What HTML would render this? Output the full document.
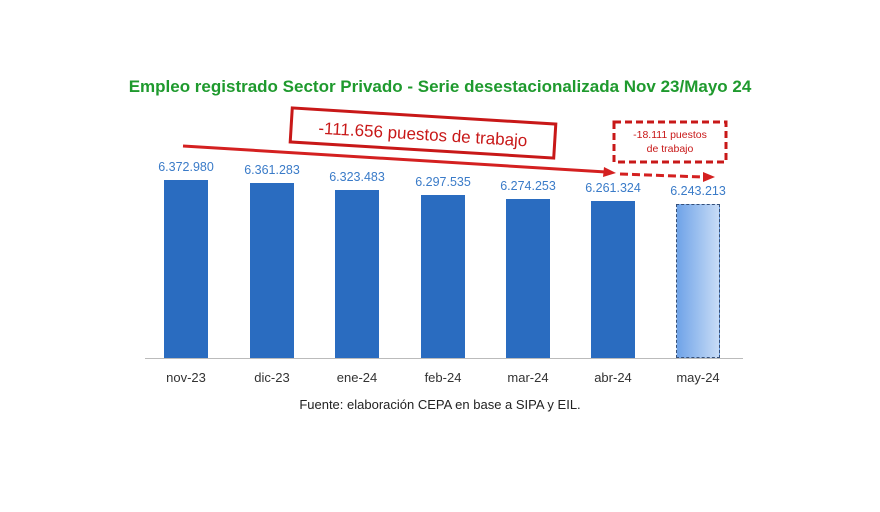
<!DOCTYPE html>
<html><head><style>
body{margin:0;width:880px;height:512px;background:#fff;position:relative;overflow:hidden;font-family:"Liberation Sans",sans-serif}
.t{position:absolute;left:0;width:880px;text-align:center;top:77px;font-weight:bold;font-size:17px;color:#1f9a2e}
.bar{position:absolute;width:44px;background:#2a6cc0;bottom:154px}
.v{position:absolute;width:90px;text-align:center;font-size:12.5px;color:#3a7bc8}
.x{position:absolute;width:90px;text-align:center;font-size:13px;color:#333;top:370px}
</style></head><body>
<div class="t">Empleo registrado Sector Privado - Serie desestacionalizada Nov 23/Mayo 24</div>
<div style="position:absolute;left:145px;top:358px;width:598px;height:1px;background:#bbb"></div>
<div class="bar" style="left:164px;top:180px"></div>
<div class="bar" style="left:250px;top:183px"></div>
<div class="bar" style="left:335px;top:190px"></div>
<div class="bar" style="left:421px;top:195px"></div>
<div class="bar" style="left:506px;top:199px"></div>
<div class="bar" style="left:591px;top:201px"></div>
<div class="bar" style="left:676px;top:204px;background:linear-gradient(90deg,#6fa3e8,#c8dcf6);border:1px dashed #35507a;box-sizing:border-box"></div>
<div class="v" style="left:141px;top:160px">6.372.980</div>
<div class="v" style="left:227px;top:163px">6.361.283</div>
<div class="v" style="left:312px;top:170px">6.323.483</div>
<div class="v" style="left:398px;top:175px">6.297.535</div>
<div class="v" style="left:483px;top:179px">6.274.253</div>
<div class="v" style="left:568px;top:181px">6.261.324</div>
<div class="v" style="left:653px;top:184px">6.243.213</div>
<div class="x" style="left:141px">nov-23</div>
<div class="x" style="left:227px">dic-23</div>
<div class="x" style="left:312px">ene-24</div>
<div class="x" style="left:398px">feb-24</div>
<div class="x" style="left:483px">mar-24</div>
<div class="x" style="left:568px">abr-24</div>
<div class="x" style="left:653px">may-24</div>
<div style="position:absolute;left:0;width:880px;text-align:center;top:397px;font-size:13px;color:#222">Fuente: elaboración CEPA en base a SIPA y EIL.</div>
<svg style="position:absolute;left:0;top:0" width="880" height="512">
<line x1="183" y1="146" x2="606" y2="172" stroke="#d42020" stroke-width="3"/>
<polygon points="616,173 604,167 603,177" fill="#d42020"/>
<line x1="620" y1="174" x2="703" y2="177" stroke="#d42020" stroke-width="3" stroke-dasharray="8,4"/>
<polygon points="715,177 703,172 703,182" fill="#d42020"/>
<g transform="rotate(3.5 423 133)">
<rect x="291" y="116" width="264" height="34" fill="#fff" stroke="#c81818" stroke-width="3"/>
<text x="423" y="140" text-anchor="middle" font-family="Liberation Sans" font-size="17" fill="#c81818">-111.656 puestos de trabajo</text>
</g>
<rect x="614" y="122" width="112" height="40" fill="#fff" stroke="#c81818" stroke-width="3" stroke-dasharray="7,4"/>
<text x="670" y="138" text-anchor="middle" font-family="Liberation Sans" font-size="10.5" fill="#c81818">-18.111 puestos</text>
<text x="670" y="152" text-anchor="middle" font-family="Liberation Sans" font-size="10.5" fill="#c81818">de trabajo</text>
</svg>
</body></html>
